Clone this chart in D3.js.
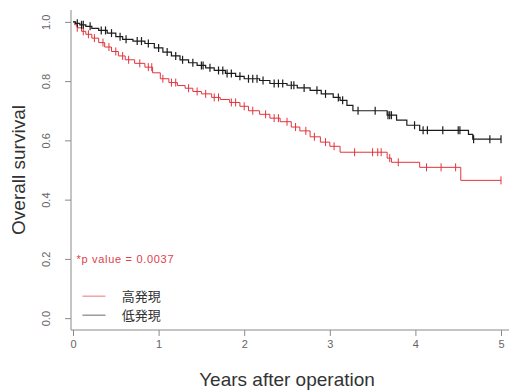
<!DOCTYPE html>
<html>
<head>
<meta charset="utf-8">
<title>Overall survival</title>
<script src="https://cdn.jsdelivr.net/npm/d3@7"></script>
<style>
  body { margin: 0; background: #fff; }
  text { font-family: "Liberation Sans", Arial, sans-serif; }
</style>
</head>
<body>
<svg id="chart" width="509" height="391"></svg>
<script>
// step points [years, survival] after each event
const lowSteps = [
  [0, 1.0], [0.03, 0.995], [0.08, 0.99], [0.15, 0.985], [0.22, 0.978], [0.30, 0.971],
  [0.40, 0.962], [0.50, 0.950], [0.58, 0.941], [0.70, 0.935], [0.84, 0.927], [0.95, 0.912],
  [1.05, 0.898], [1.15, 0.885], [1.25, 0.872], [1.35, 0.862], [1.45, 0.853], [1.55, 0.845],
  [1.65, 0.836], [1.78, 0.826], [1.90, 0.816], [2.00, 0.808], [2.18, 0.802], [2.30, 0.792],
  [2.50, 0.786], [2.62, 0.777], [2.77, 0.769], [2.90, 0.757], [3.04, 0.745], [3.12, 0.735],
  [3.20, 0.718], [3.27, 0.700], [3.67, 0.685], [3.78, 0.668], [3.90, 0.651], [4.05, 0.634],
  [4.62, 0.620], [4.67, 0.604], [5.0, 0.604]
];
const highSteps = [
  [0, 1.0], [0.02, 0.99], [0.05, 0.98], [0.10, 0.968], [0.15, 0.958], [0.22, 0.945],
  [0.30, 0.930], [0.37, 0.915], [0.45, 0.900], [0.53, 0.885], [0.61, 0.872], [0.72, 0.860],
  [0.84, 0.847], [0.93, 0.828], [1.02, 0.808], [1.12, 0.795], [1.22, 0.785], [1.31, 0.776],
  [1.40, 0.765], [1.50, 0.757], [1.62, 0.745], [1.72, 0.738], [1.83, 0.728], [1.95, 0.715],
  [2.05, 0.700], [2.18, 0.688], [2.30, 0.675], [2.42, 0.663], [2.55, 0.645], [2.65, 0.632],
  [2.77, 0.612], [2.89, 0.594], [3.00, 0.580], [3.12, 0.560], [3.67, 0.540], [3.72, 0.526],
  [4.05, 0.509], [4.53, 0.465], [5.0, 0.465]
];
// censored times
const lowCensor = [0.05, 0.1, 0.12, 0.2, 0.33, 0.38, 0.45, 0.55, 0.62, 0.75, 0.8, 0.88, 1.0,
  1.1, 1.2, 1.28, 1.4, 1.5, 1.52, 1.6, 1.7, 1.75, 1.8, 1.85, 1.95, 2.05, 2.1, 2.15, 2.22,
  2.35, 2.4, 2.45, 2.55, 2.58, 2.7, 2.85, 2.95, 3.1, 3.15, 3.33, 3.53, 3.68, 3.7, 3.72,
  3.99, 4.09, 4.14, 4.32, 4.5, 4.52, 4.68, 4.87, 5.0];
const highCensor = [0.05, 0.12, 0.18, 0.25, 0.35, 0.42, 0.5, 0.58, 0.65, 0.78, 0.88, 0.92,
  1.05, 1.15, 1.2, 1.35, 1.45, 1.55, 1.65, 1.7, 1.85, 1.9, 2.0, 2.1, 2.25, 2.35, 2.4, 2.5,
  2.6, 2.72, 2.82, 2.95, 3.05, 3.29, 3.5, 3.56, 3.6, 3.7, 3.8, 4.13, 4.3, 4.47, 5.0];

const xTicks = [0, 1, 2, 3, 4, 5];
const yTicks = [0.0, 0.2, 0.4, 0.6, 0.8, 1.0];
const legendLabels = ["高発現", "低発現"];
const pText = "*p value = 0.0037";

const svg = d3.select("#chart");
const margin = { top: 10, right: 0, bottom: 61, left: 71 };
const width = 509 - margin.left - margin.right;
const height = 391 - margin.top - margin.bottom;
const g = svg.append("g").attr("transform", "translate(" + margin.left + "," + margin.top + ")");

const x = d3.scaleLinear().domain([0, 5]).range([2, 430]);
const y = d3.scaleLinear().domain([-0.04, 1.04]).range([height, 0]);

// L shaped box
g.append("path")
  .attr("d", "M0,0V" + height + "H" + width)
  .attr("fill", "none")
  .attr("stroke", "#8a8a8a");

// y axis
const yAxis = g.append("g")
  .call(d3.axisLeft(y).tickValues(yTicks).tickSize(6).tickFormat(d3.format(".1f")));
yAxis.select(".domain").remove();
yAxis.selectAll("line").attr("stroke", "#8a8a8a");
yAxis.selectAll("text")
  .attr("transform", "rotate(-90)")
  .attr("x", 0).attr("y", -21).attr("dy", 0)
  .attr("text-anchor", "middle")
  .attr("fill", "#666")
  .style("font-size", "11px");

// x axis
const xAxis = g.append("g")
  .attr("transform", "translate(0," + height + ")")
  .call(d3.axisBottom(x).tickValues(xTicks).tickSize(6).tickFormat(d3.format("d")));
xAxis.select(".domain").remove();
xAxis.selectAll("line").attr("stroke", "#8a8a8a");
xAxis.selectAll("text")
  .attr("y", 18).attr("dy", 0)
  .attr("fill", "#666")
  .style("font-size", "11px");

// curves
const line = d3.line()
  .x(d => x(d[0]))
  .y(d => y(d[1]))
  .curve(d3.curveStepAfter);

function survAt(steps, t) {
  let s = steps[0][1];
  steps.forEach(d => { if (d[0] <= t) s = d[1]; });
  return s;
}

function drawCurve(steps, censor, color, w) {
  g.append("path")
    .datum(steps)
    .attr("fill", "none")
    .attr("stroke", color)
    .attr("stroke-width", w)
    .attr("d", line);
  g.selectAll(null)
    .data(censor)
    .enter().append("line")
    .attr("x1", d => x(d)).attr("x2", d => x(d))
    .attr("y1", d => y(survAt(steps, d)) - 4)
    .attr("y2", d => y(survAt(steps, d)) + 4)
    .attr("stroke", color)
    .attr("stroke-width", w);
}

drawCurve(highSteps, highCensor, "#e2343c", 1);
drawCurve(lowSteps, lowCensor, "#1c1c1c", 1.2);

// p value
g.append("text")
  .attr("x", x(0.04)).attr("y", y(0.2) + 4)
  .attr("fill", "#e0404a")
  .style("font-size", "11px")
  .style("letter-spacing", "0.7px")
  .text(pText);

// legend
const legendColors = ["#f3a3aa", "#9a9a9a"];
legendLabels.forEach((lab, i) => {
  const ly = y(0.074) + i * 19;
  g.append("line")
    .attr("x1", x(0.11)).attr("x2", x(0.38))
    .attr("y1", ly).attr("y2", ly)
    .attr("stroke", legendColors[i])
    .attr("stroke-width", 1.5);
  g.append("text")
    .attr("x", x(0.57)).attr("y", ly + 5)
    .attr("fill", "#333")
    .style("font-family", "'Noto Sans CJK JP', sans-serif")
    .style("font-size", "13px")
    .text(lab);
});

// axis titles
svg.append("text")
  .attr("x", margin.left + x(2.5)).attr("y", 386)
  .attr("text-anchor", "middle")
  .attr("fill", "#333")
  .style("font-size", "19px")
  .text("Years after operation");

svg.append("defs").append("clipPath").attr("id", "lab-clip")
  .append("rect").attr("x", 12).attr("y", 0).attr("width", 60).attr("height", 391);

svg.append("g")
  .attr("clip-path", "url(#lab-clip)")
  .append("text")
  .attr("transform", "translate(25," + (margin.top + y(0.5)) + ") rotate(-90)")
  .attr("text-anchor", "middle")
  .attr("fill", "#333")
  .style("font-size", "19px")
  .text("Overall survival");
</script>
</body>
</html>
